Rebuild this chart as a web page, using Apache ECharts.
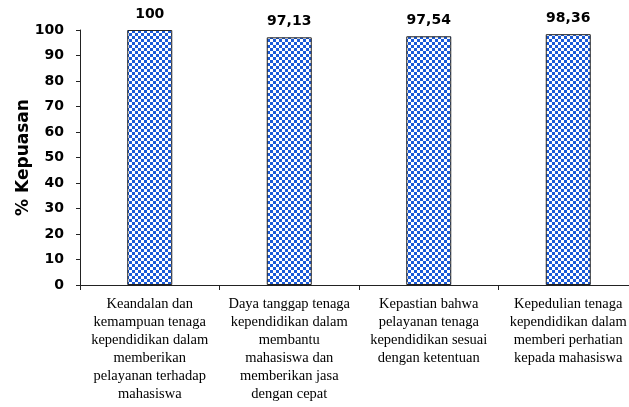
<!DOCTYPE html>
<html>
<head>
<meta charset="utf-8">
<script src="https://cdn.jsdelivr.net/npm/echarts@6/dist/echarts.min.js"></script>
<style>html,body{margin:0;padding:0;background:#fff;overflow:hidden;width:629px;height:407px;}#c{width:642px;height:407px;}</style>
</head>
<body>
<div id="c"></div>
<script>
const categories = [
  "Keandalan dan\nkemampuan tenaga\nkependidikan dalam\nmemberikan\npelayanan terhadap\nmahasiswa",
  "Daya tanggap tenaga\nkependidikan dalam\nmembantu\nmahasiswa dan\nmemberikan jasa\ndengan cepat",
  "Kepastian bahwa\npelayanan tenaga\nkependidikan sesuai\ndengan ketentuan",
  "Kepedulian tenaga\nkependidikan dalam\nmemberi perhatian\nkepada mahasiswa"
];
const values = [100, 97.13, 97.54, 98.36];
const yAxisName = "% Kepuasan";

const pc = document.createElement('canvas');
pc.width = 6; pc.height = 6;
const g = pc.getContext('2d');
g.fillStyle = '#ffffff'; g.fillRect(0, 0, 6, 6);
g.fillStyle = '#1a5ad8';
g.fillRect(0, 0, 3, 3);
g.fillRect(3, 3, 3, 3);

const chart = echarts.init(document.getElementById('c'), null, {renderer: 'canvas'});
chart.setOption({
  animation: false,
  backgroundColor: '#ffffff',
  grid: {left: 80, right: 4, top: 30, bottom: 122, containLabel: false},
  xAxis: {
    type: 'category',
    data: categories,
    axisLine: {lineStyle: {color: '#222', width: 1}},
    axisTick: {show: true, length: 5, lineStyle: {color: '#222'}},
    axisLabel: {
      interval: 0,
      margin: 10,
      fontFamily: 'Liberation Serif',
      fontSize: 14.5,
      lineHeight: 18,
      color: '#000',
      align: 'center'
    }
  },
  yAxis: {
    type: 'value',
    min: 0, max: 100, interval: 10,
    name: yAxisName,
    nameLocation: 'middle',
    nameGap: 48,
    nameMoveOverlap: false,
    nameTextStyle: {fontFamily: 'DejaVu Sans', fontWeight: 'bold', fontSize: 17, color: '#000'},
    axisLine: {show: true, lineStyle: {color: '#222', width: 1}},
    axisTick: {show: true, length: 4, lineStyle: {color: '#222'}},
    splitLine: {show: false},
    axisLabel: {fontFamily: 'DejaVu Sans', fontWeight: 'bold', fontSize: 14, color: '#000', margin: 16}
  },
  series: [{
    type: 'bar',
    data: values,
    barWidth: 45,
    itemStyle: {
      color: {image: pc, repeat: 'repeat'},
      borderColor: '#222',
      borderWidth: 1
    },
    label: {
      show: true,
      position: 'top',
      distance: 9,
      fontFamily: 'DejaVu Sans',
      fontWeight: 'bold',
      fontSize: 14,
      color: '#000',
      formatter: p => String(p.value).replace('.', ',')
    }
  }]
});
</script>
</body>
</html>
